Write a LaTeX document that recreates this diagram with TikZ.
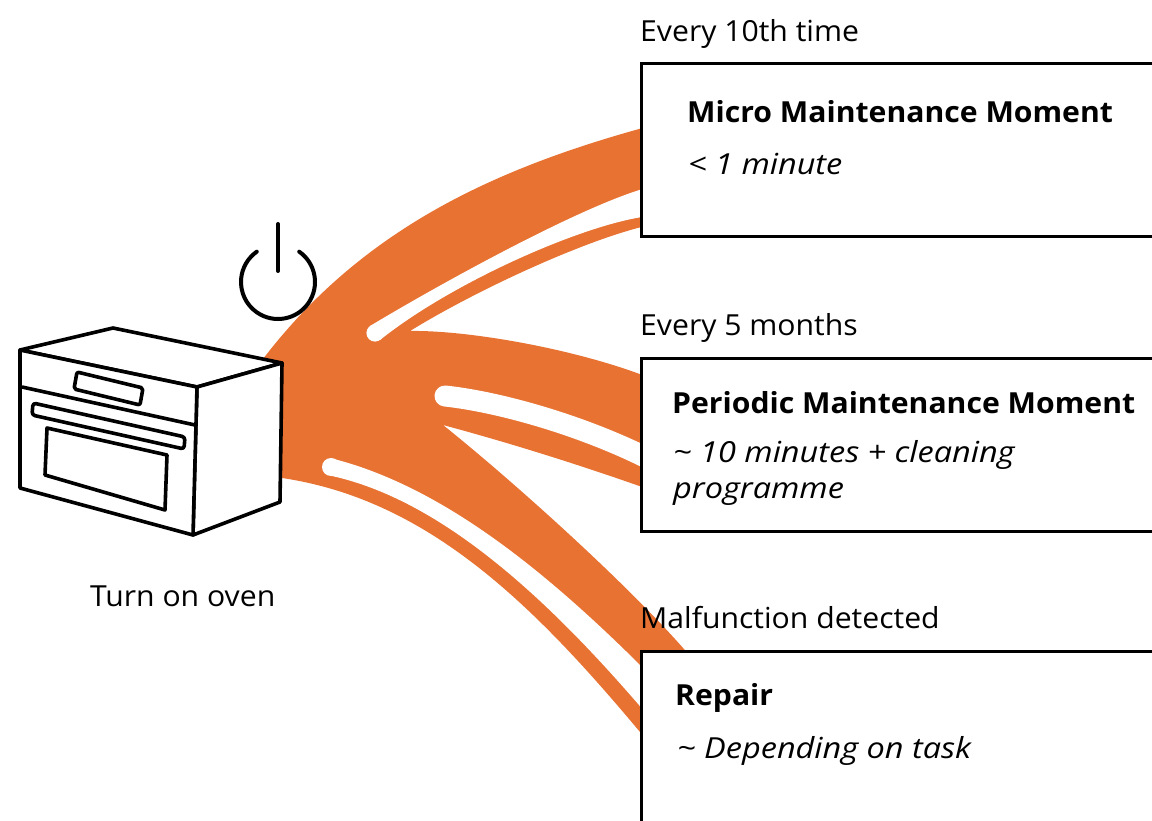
\documentclass[tikz,border=0pt]{standalone}
\usepackage{fontspec}
\setmainfont{Open Sans}[FakeStretch=1.04]
\newfontfamily\notefamily{Open Sans}[FakeStretch=1.12]
\definecolor{flow}{RGB}{232,114,50}
\begin{document}
\begin{tikzpicture}[x=1pt,y=-1pt,
  outline/.style={draw=black, line width=3.6pt, line join=round},
  panel/.style={draw=black, line width=3pt, fill=white, inner sep=0pt, anchor=north west},
  lbl/.style={anchor=base west, inner sep=0pt, font=\fontsize{29}{34}\selectfont},
  ttl/.style={anchor=base west, inner sep=0pt, font=\fontsize{29}{34}\selectfont\bfseries},
  note/.style={anchor=base west, inner sep=0pt, font=\notefamily\fontsize{29}{34}\selectfont\itshape},
  powerline/.style={draw=black, line width=4pt, line cap=round},
]
\useasboundingbox (0,0) rectangle (1152,821);
\clip (0,0) rectangle (1152,821);
\fill[white] (0,0) rectangle (1152,821);

% orange ribbons fanning out from the oven
\fill[flow] (262,366) -- (263,359)
  .. controls (361,231) and (491,169) .. (650,126) -- (660,123)
  -- (660,224) -- (650,225)
  .. controls (590,238) and (480,288) .. (410,331)
  .. controls (470,330) and (580,350) .. (650,378) -- (660,381)
  -- (660,490) -- (645,488)
  .. controls (580,465) and (510,443) .. (443,425)
  .. controls (513,481) and (632,588) .. (690,656) -- (705,675)
  -- (705,760) -- (660,758) -- (645,738)
  .. controls (536,607) and (430,500) .. (282,478) -- (262,480) -- cycle;

% white slits splitting each ribbon
\fill[white] (370,326) .. controls (450,278) and (590,202) .. (650,187)
  -- (665,184) -- (665,216) -- (650,216)
  .. controls (590,222) and (455,280) .. (380,340) -- cycle;
\fill[white] (375,333) circle[radius=8.6];
\draw[white, line width=21pt, line cap=round]
  (445,396) .. controls (500,402) and (580,425) .. (645,457) -- (665,463);
\fill[white] (330,458) .. controls (440,485) and (545,570) .. (645,670)
  -- (665,690) -- (665,730) -- (645,712)
  .. controls (545,595) and (440,500) .. (332,476) -- cycle;
\fill[white] (331,467) circle[radius=9];

% oven
\filldraw[outline, fill=white] (20,350) -- (113,328) -- (282,363) -- (197,387) -- cycle;
\filldraw[outline, fill=white] (197,387) -- (282,363) -- (280,502) -- (193,535) -- cycle;
\filldraw[outline, fill=white] (20,350) -- (197,387) -- (193,535) -- (20,488) -- cycle;
\draw[outline] (22,387) -- (195,425);
\draw[outline, rounded corners=2pt] (77,372) -- (143,388) -- (140,405) -- (74,389) -- cycle;
\draw[outline, rounded corners=3pt] (33,403) -- (185,437) -- (184,449) -- (32,415) -- cycle;
\draw[outline] (47,428) -- (167,455) -- (165,510) -- (45,475) -- cycle;
\node[lbl] (ovenlbl) at (90,606) {Turn on oven};

% power symbol
\draw[powerline] (278,282) ++(-55:37) arc[start angle=-55, end angle=235, radius=37];
\draw[powerline] (278,224) -- (278,271);

% stage boxes
\node[panel, minimum width=540pt, minimum height=173pt] (micro) at (640,62) {};
\node[panel, minimum width=540pt, minimum height=173pt] (periodic) at (640,357) {};
\node[panel, minimum width=540pt, minimum height=200pt] (repair) at (640,650) {};

\node[lbl] (t1) at (640,42) {Every 10th time};
\node[ttl] (h1) at (687,123) {Micro Maintenance Moment};
\node[note] (d1) at (688,175) {< 1 minute};

\node[lbl] (t2) at (640,335) {Every 5 months};
\node[ttl] (h2) at (672,413) {Periodic Maintenance Moment};
\node[note] (d2) at (673,462) {\textasciitilde{} 10 minutes + cleaning};
\node[note] (d2b) at (673,498) {programme};

\node[lbl] (t3) at (640,628) {Malfunction detected};
\node[ttl] (h3) at (675,705) {Repair};
\node[note] (d3) at (677,758) {\textasciitilde{} Depending on task};
\end{tikzpicture}
\end{document}
